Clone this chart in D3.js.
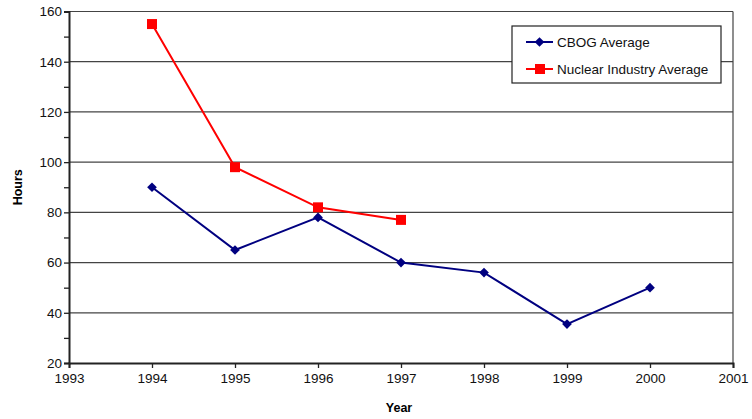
<!DOCTYPE html>
<html><head><meta charset="utf-8">
<script src="https://cdn.jsdelivr.net/npm/d3@7"></script>
<style>body{margin:0;background:#fff}svg{display:block}text{font-family:"Liberation Sans",Arial,sans-serif}</style>
</head><body><svg id="c" width="752" height="419"></svg>
<script>
const years = [1994,1995,1996,1997,1998,1999,2000];
const cbog = [90,65,78,60,56,35.5,50];
const nuclearYears = [1994,1995,1996,1997];
const nuclear = [155,98,82,77];
const yTicks = [20,40,60,80,100,120,140,160];
const xTicks = [1993,1994,1995,1996,1997,1998,1999,2000,2001];

const svg = d3.select("#c");
const m = {l:69, r:733, t:11.5, b:363};
const x = d3.scaleLinear().domain([1993,2001]).range([m.l,m.r]);
const y = d3.scaleLinear().domain([20,160]).range([m.b,m.t]);

// gridlines
svg.append("g").selectAll("line").data(yTicks.filter(d=>d>20)).join("line")
  .attr("x1",m.l).attr("x2",m.r).attr("y1",d=>y(d)).attr("y2",d=>y(d))
  .attr("stroke","#444").attr("stroke-width",1.2);
// right border
svg.append("line").attr("x1",m.r).attr("x2",m.r).attr("y1",m.t).attr("y2",m.b).attr("stroke","#444").attr("stroke-width",1.2);

// y axis
const ya = svg.append("g").attr("transform",`translate(${m.l},0)`)
  .call(d3.axisLeft(y).tickValues(d3.range(20,161,10)).tickSize(5).tickFormat(d=>yTicks.includes(d)?d:""));
ya.select(".domain").attr("stroke","#222").attr("stroke-width",2);
ya.selectAll(".tick line").attr("stroke","#222").attr("stroke-width",1.3);
ya.selectAll(".tick text").attr("font-size",13.5).attr("fill","#111").attr("x",-7);

// x axis
const xa = svg.append("g").attr("transform",`translate(0,${m.b})`)
  .call(d3.axisBottom(x).tickValues(xTicks).tickSize(5).tickFormat(d3.format("d")));
xa.select(".domain").attr("stroke","#222").attr("stroke-width",2);
xa.selectAll(".tick line").attr("stroke","#222").attr("stroke-width",1.3);
xa.selectAll(".tick text").attr("font-size",13.5).attr("fill","#111").attr("y",10);

// titles
svg.append("text").attr("x",399).attr("y",412).attr("text-anchor","middle")
  .attr("font-size",12.5).attr("font-weight","bold").text("Year");
svg.append("text").attr("transform",`translate(22,${(m.t+m.b)/2}) rotate(-90)`).attr("text-anchor","middle")
  .attr("font-size",12.5).attr("font-weight","bold").text("Hours");

// lines
const line = d3.line().x(d=>x(d[0])).y(d=>y(d[1]));
const cData = years.map((yr,i)=>[yr,cbog[i]]);
const nData = nuclearYears.map((yr,i)=>[yr,nuclear[i]]);
svg.append("path").datum(nData).attr("d",line).attr("fill","none").attr("stroke","#ff0000").attr("stroke-width",2);
svg.append("path").datum(cData).attr("d",line).attr("fill","none").attr("stroke","#000080").attr("stroke-width",2);
svg.append("g").selectAll("rect").data(nData).join("rect")
  .attr("x",d=>x(d[0])-5).attr("y",d=>y(d[1])-5).attr("width",10).attr("height",10).attr("fill","#ff0000");
const diamond = d3.symbol().type(d3.symbolDiamond2).size(60);
svg.append("g").selectAll("path").data(cData).join("path")
  .attr("transform",d=>`translate(${x(d[0])},${y(d[1])})`).attr("d",diamond).attr("fill","#000080");

// legend
const lg = svg.append("g");
lg.append("rect").attr("x",512).attr("y",26).attr("width",209).attr("height",57).attr("fill","#fff").attr("stroke","#222").attr("stroke-width",1.2);
const items = [{name:"CBOG Average",c:"#000080",t:"d"},{name:"Nuclear Industry Average",c:"#ff0000",t:"s"}];
items.forEach((it,i)=>{
  const yy = 42 + i*27;
  lg.append("line").attr("x1",526).attr("x2",553).attr("y1",yy).attr("y2",yy).attr("stroke",it.c).attr("stroke-width",2);
  if(it.t==="d") lg.append("path").attr("transform",`translate(539.5,${yy})`).attr("d",diamond).attr("fill",it.c);
  else lg.append("rect").attr("x",535).attr("y",yy-5).attr("width",10).attr("height",10).attr("fill",it.c);
  lg.append("text").attr("x",557).attr("y",yy+5).attr("font-size",13.5).attr("fill","#111").text(it.name);
});
</script></body></html>
